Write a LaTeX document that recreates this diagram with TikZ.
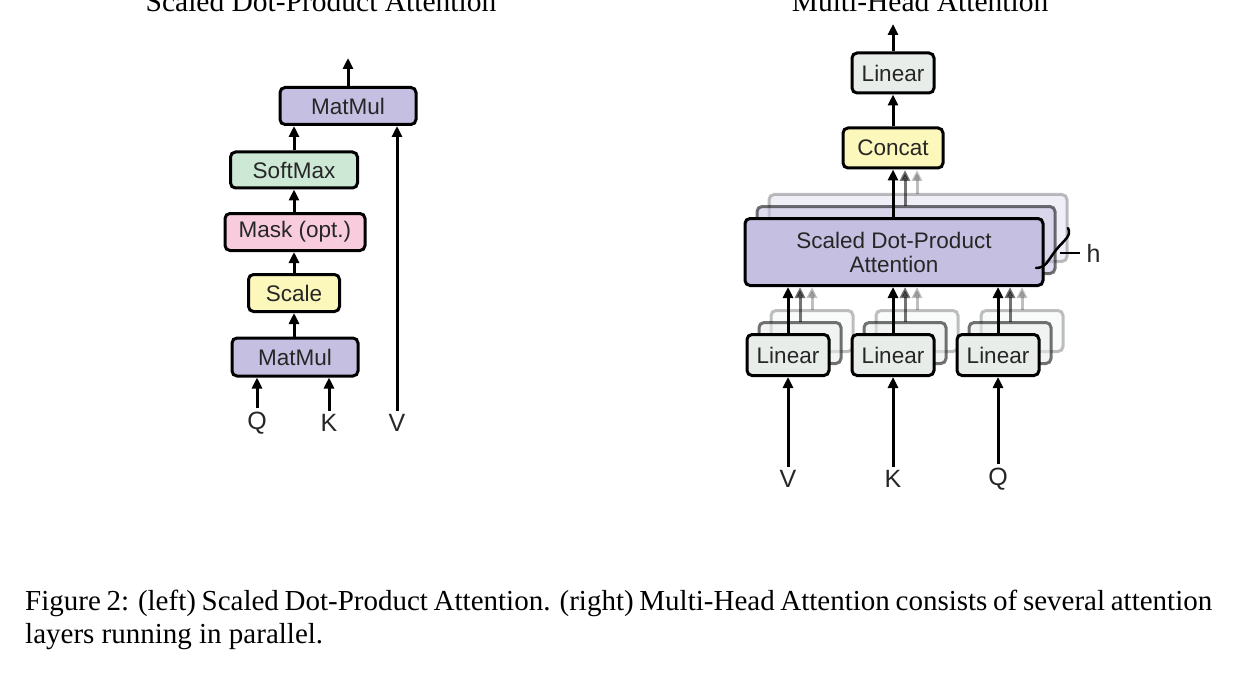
\documentclass[tikz,border=0pt]{standalone}
\usepackage{fontspec}
\setmainfont{Liberation Serif}
\newfontfamily\lbl{Liberation Sans}
\usetikzlibrary{arrows.meta}
\definecolor{cpurple}{RGB}{197,191,225}
\definecolor{cgreen}{RGB}{205,232,213}
\definecolor{cpink}{RGB}{248,203,221}
\definecolor{cyellow}{RGB}{252,247,187}
\definecolor{cgrey}{RGB}{232,237,234}
\tikzset{
  blk/.style={draw=black,line width=3pt,rounded corners=5pt,inner sep=0pt,font=\lbl\fontsize{22.5}{25}\selectfont,text=black!85},
  arr/.style={line width=3pt,-{Triangle[length=11pt,width=10pt]}},
  lab/.style={font=\lbl\fontsize{25}{28}\selectfont,text=black!85},
  ttl/.style={font=\fontsize{29.5}{32}\selectfont,anchor=base},
}
\begin{document}
\begin{tikzpicture}[x=1pt,y=-1pt]
\useasboundingbox (0,0) rectangle (1236,687);
% titles
\node[ttl] (t1) at (321,12) {Scaled Dot-Product Attention};
\node[ttl] (t2) at (920,12) {Multi-Head Attention};
% left
\node[blk,fill=cpurple,minimum width=136pt,minimum height=37pt] (mm2) at (348,106) {MatMul};
\node[blk,fill=cgreen,minimum width=127pt,minimum height=36pt] (sm) at (294,170) {SoftMax};
\node[blk,fill=cpink,minimum width=140pt,minimum height=37pt] (mask) at (295,232) {Mask (opt.)};
\node[blk,fill=cyellow,minimum width=91pt,minimum height=37pt] (sc) at (294,293) {Scale};
\node[blk,fill=cpurple,minimum width=126pt,minimum height=38pt] (mm1) at (295,357) {MatMul};
\node[lab] (q1) at (257,423) {Q};
\node[lab] (k1) at (329,423) {K};
\node[lab] (v1) at (397,423) {V};
\coordinate (o1) at (348,58);
\draw[arr] (q1.north) -- (q1.north |- mm1.south);
\draw[arr] (k1.north) -- (k1.north |- mm1.south);
\draw[arr] (v1.north) -- (v1.north |- mm2.south);
\draw[arr] (mm1.north -| sc) -- (sc.south);
\draw[arr] (sc.north) -- (sc.north |- mask.south);
\draw[arr] (mask.north -| sm) -- (sm.south);
\draw[arr] (sm.north) -- (sm.north |- mm2.south);
\draw[arr] (mm2.north) -- (o1);
% right: shadows
\foreach \d/\op in {24/0.25,12/0.55}{
  \begin{scope}[opacity=\op]
    \node[blk,fill=cpurple,minimum width=298pt,minimum height=67pt] at (894+\d,252-\d) {};
    \foreach \x in {788,893,998}{
      \node[blk,fill=cgrey,minimum width=82pt,minimum height=41pt] at (\x+\d,355-\d) {};
      \draw[arr] (\x+\d,334-\d) -- (\x+\d,287);
    }
    \draw[arr] (893+\d,218-\d) -- (893+\d,170);
  \end{scope}
}
\node[blk,fill=cpurple,minimum width=298pt,minimum height=67pt,align=center] (sdpa) at (894,252) {Scaled Dot-Product\\[-1pt]Attention};
\node[blk,fill=cgrey,minimum width=82pt,minimum height=41pt] (l1) at (788,355) {Linear};
\node[blk,fill=cgrey,minimum width=82pt,minimum height=41pt] (l2) at (893,355) {Linear};
\node[blk,fill=cgrey,minimum width=82pt,minimum height=41pt] (l3) at (998,355) {Linear};
\node[blk,fill=cyellow,minimum width=100pt,minimum height=40pt] (cc) at (893,148) {Concat};
\node[blk,fill=cgrey,minimum width=82pt,minimum height=40pt] (lt) at (893,73) {Linear};
\node[lab] (v2) at (788,479) {V};
\node[lab] (k2) at (893,479) {K};
\node[lab] (q2) at (998,479) {Q};
\coordinate (o2) at (893,24);
\draw[arr] (v2.north) -- (l1.south);
\draw[arr] (k2.north) -- (l2.south);
\draw[arr] (q2.north) -- (l3.south);
\draw[arr] (l1.north) -- (l1.north |- sdpa.south);
\draw[arr] (l2.north) -- (l2.north |- sdpa.south);
\draw[arr] (l3.north) -- (l3.north |- sdpa.south);
\draw[arr] (sdpa.north -| cc) -- (cc.south);
\draw[arr] (cc.north) -- (lt.south);
\draw[arr] (lt.north) -- (o2);
% h brace
\draw[line width=2.5pt,line cap=round] (1068,228) .. controls (1072,236) and (1064,240) .. (1056,250) .. controls (1048,260) and (1046,268) .. (1036,268);
\draw[line width=2pt] (1060,253) -- (1080,253);
\node[lab,anchor=west] (h) at (1083,253) {h};
% caption
\node[anchor=north west,inner sep=0pt] (cap) at (25,590) {\parbox{1187pt}{\fontsize{29}{33}\selectfont Figure 2: (left) Scaled Dot-Product Attention. (right) Multi-Head Attention consists of several attention layers running in parallel.}};
\end{tikzpicture}
\end{document}
